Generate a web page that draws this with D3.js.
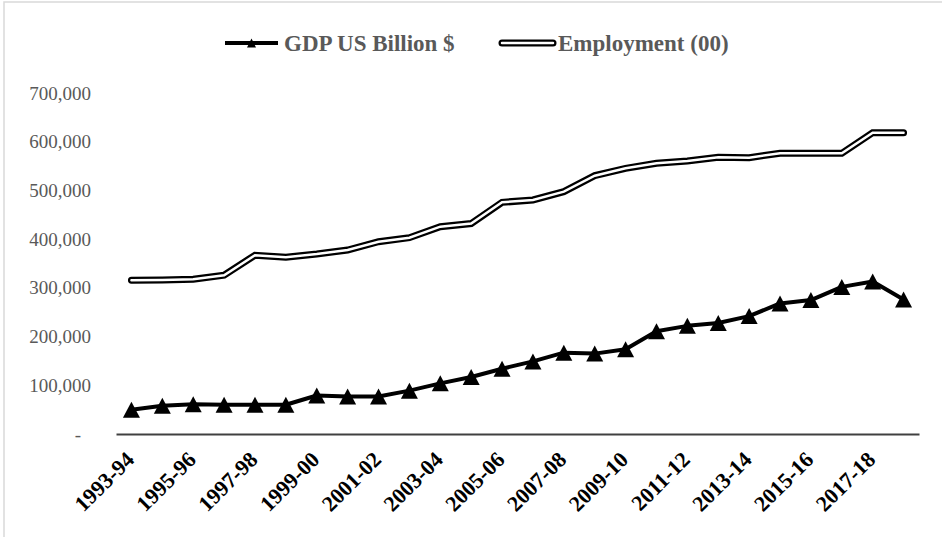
<!DOCTYPE html>
<html>
<head>
<meta charset="utf-8">
<script src="https://cdn.jsdelivr.net/npm/d3@7"></script>
<style>
  html, body { margin: 0; padding: 0; background: #fff; }
  svg { display: block; }
</style>
</head>
<body>
<svg id="chart" width="942" height="537"></svg>
<script>
// Fiscal years on the category axis
const years = ["1993-94","1994-95","1995-96","1996-97","1997-98","1998-99","1999-00","2000-01",
  "2001-02","2002-03","2003-04","2004-05","2005-06","2006-07","2007-08","2008-09","2009-10",
  "2010-11","2011-12","2012-13","2013-14","2014-15","2015-16","2016-17","2017-18","2018-19"];

// GDP, US$ billion
const gdp = [50000, 58000, 61000, 60000, 60000, 60000, 79000, 77000, 77000, 89000, 104000, 117000,
  134000, 149000, 167000, 165000, 174000, 211000, 222000, 228000, 242000, 268000, 275000,
  302000, 313000, 276000];

// Employment, in hundreds
const employment = [315500, 316000, 317600, 326000, 367000, 363000, 369500, 377700, 394800,
  403000, 425600, 432000, 475600, 480400, 497500, 530300, 545400, 555700, 560500, 568000,
  567300, 576200, 576200, 576200, 618600, 618600];

const yTicks = [0, 100000, 200000, 300000, 400000, 500000, 600000, 700000];
const xTickLabels = years.filter((d, i) => i % 2 === 0);

const seriesNames = ["GDP US Billion $", "Employment (00)"];

const svg = d3.select("#chart");
const W = 942, H = 537;
const plot = { left: 116, right: 919, top: 93, bottom: 434 };
const serif = "'Liberation Serif', 'Times New Roman', serif";

// chart frame
svg.append("path")
  .attr("d", `M4,${H + 2} L4,2 L${W + 2},2`)
  .attr("fill", "none")
  .attr("stroke", "#d9d9d9")
  .attr("stroke-width", 1.5);

const x = d3.scaleBand().domain(years).range([plot.left, plot.right]);
const cx = d => x(d) + x.bandwidth() / 2;
const y = d3.scaleLinear().domain([0, 700000]).range([plot.bottom, plot.top]);

// value axis (labels only)
const yAxis = svg.append("g")
  .attr("transform", `translate(${plot.left},0)`)
  .call(d3.axisLeft(y).tickValues(yTicks).tickSize(0).tickPadding(25)
    .tickFormat(v => v === 0 ? "-" : d3.format(",")(v)));
yAxis.select(".domain").remove();
yAxis.selectAll("text")
  .attr("font-family", serif)
  .attr("font-size", 19)
  .attr("fill", "#595959")
  .attr("dx", v => v === 0 ? -10 : 0);

// category axis
const xAxis = svg.append("g")
  .attr("transform", `translate(0,${plot.bottom})`)
  .call(d3.axisBottom(x).tickValues(xTickLabels).tickSize(0).tickSizeOuter(0).tickPadding(0));
xAxis.select(".domain")
  .attr("stroke", "#404040")
  .attr("stroke-width", 2);
xAxis.selectAll("text")
  .attr("font-family", serif)
  .attr("font-size", 22)
  .attr("font-weight", "bold")
  .attr("fill", "#000")
  .attr("text-anchor", "end")
  .attr("dy", 0)
  .attr("transform", "translate(4,27) rotate(-45)");

// employment: double line (thick dark stroke with a white core)
const empLine = d3.line().x((d, i) => cx(years[i])).y(d => y(d));
svg.append("path")
  .datum(employment)
  .attr("d", empLine)
  .attr("fill", "none")
  .attr("stroke", "#000")
  .attr("stroke-width", 7)
  .attr("stroke-linejoin", "miter")
  .attr("stroke-linecap", "round");
svg.append("path")
  .datum(employment)
  .attr("d", empLine)
  .attr("fill", "none")
  .attr("stroke", "#fff")
  .attr("stroke-width", 2.5)
  .attr("stroke-linejoin", "miter")
  .attr("stroke-linecap", "round");

// GDP: solid line with triangle markers
const gdpLine = d3.line().x((d, i) => cx(years[i])).y(d => y(d));
svg.append("path")
  .datum(gdp)
  .attr("d", gdpLine)
  .attr("fill", "none")
  .attr("stroke", "#000")
  .attr("stroke-width", 4)
  .attr("stroke-linejoin", "round");

const tri = (w, h) => `M0,${-h / 2} L${w / 2},${h / 2} L${-w / 2},${h / 2} Z`;
svg.append("g").selectAll("path")
  .data(gdp)
  .join("path")
  .attr("transform", (d, i) => `translate(${cx(years[i])},${y(d)})`)
  .attr("d", tri(17, 16))
  .attr("fill", "#000");

// legend
const legend = svg.append("g");
const ly = 43;
// GDP entry
legend.append("line")
  .attr("x1", 225).attr("x2", 278).attr("y1", ly).attr("y2", ly)
  .attr("stroke", "#000").attr("stroke-width", 4);
legend.append("path")
  .attr("transform", `translate(251.5,${ly})`)
  .attr("d", tri(9, 9))
  .attr("fill", "#000");
legend.append("text")
  .attr("x", 284).attr("y", ly + 8)
  .attr("font-family", serif).attr("font-size", 23).attr("font-weight", "bold")
  .attr("fill", "#595959")
  .text(seriesNames[0]);
// Employment entry
legend.append("line")
  .attr("x1", 502).attr("x2", 553).attr("y1", ly).attr("y2", ly)
  .attr("stroke", "#000").attr("stroke-width", 7).attr("stroke-linecap", "round");
legend.append("line")
  .attr("x1", 502).attr("x2", 553).attr("y1", ly).attr("y2", ly)
  .attr("stroke", "#fff").attr("stroke-width", 2.5).attr("stroke-linecap", "round");
legend.append("text")
  .attr("x", 558).attr("y", ly + 8)
  .attr("font-family", serif).attr("font-size", 23).attr("font-weight", "bold")
  .attr("fill", "#595959")
  .text(seriesNames[1]);
</script>
</body>
</html>
